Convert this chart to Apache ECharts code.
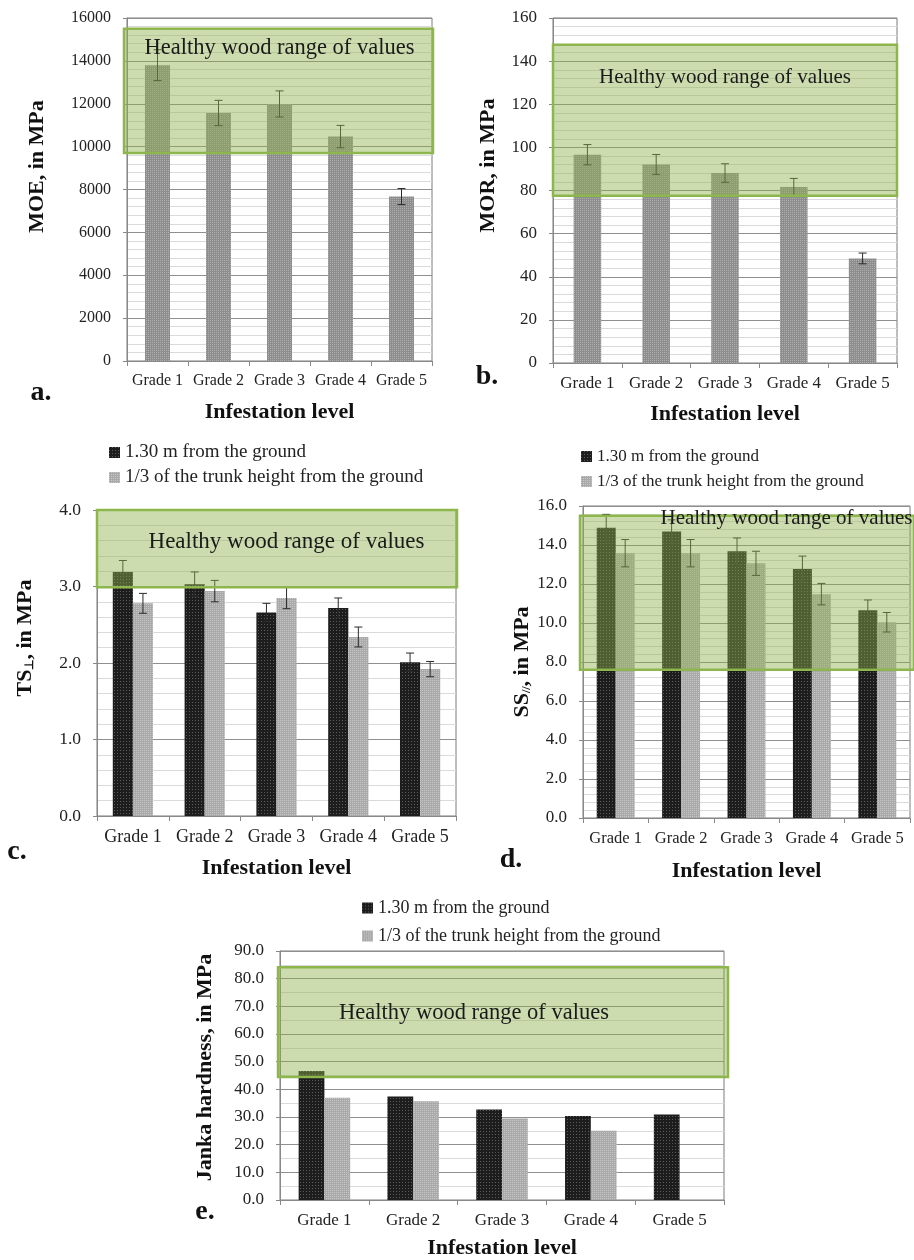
<!DOCTYPE html>
<html><head><meta charset="utf-8">
<script src="https://cdn.jsdelivr.net/npm/echarts@6/dist/echarts.min.js"></script>
<style>html,body{margin:0;padding:0;background:#fff}#c{width:914px;height:1260px}</style>
</head><body><div id="c"></div>
<script>
// ---------- data ----------
const grades = ['Grade 1', 'Grade 2', 'Grade 3', 'Grade 4', 'Grade 5'];
const seriesNames = ['1.30 m from the ground', '1/3 of the trunk height from the ground'];
const healthyLabel = 'Healthy wood range of values';
const xTitle = 'Infestation level';

// a. MOE
const moe = [13800, 11570, 11990, 10470, 7670];
const moeErr = [720, 590, 610, 520, 375];
const moeHealthy = [9700, 15500];
// b. MOR
const mor = [96.6, 92.1, 88.1, 81.6, 48.5];
const morErr = [4.7, 4.6, 4.3, 4.0, 2.5];
const morHealthy = [77.6, 147.6];
// c. TS perpendicular
const tsLow = [3.19, 3.03, 2.66, 2.72, 2.01];
const tsLowErr = [0.15, 0.16, 0.12, 0.13, 0.12];
const tsHigh = [2.78, 2.94, 2.85, 2.34, 1.92];
const tsHighErr = [0.13, 0.14, 0.14, 0.13, 0.10];
const tsHealthy = [2.99, 4.0];
// d. SS parallel
const ssLow = [14.89, 14.69, 13.68, 12.77, 10.66];
const ssLowErr = [0.68, 0.6, 0.68, 0.66, 0.52];
const ssHigh = [13.58, 13.58, 13.06, 11.48, 10.04];
const ssHighErr = [0.7, 0.7, 0.62, 0.55, 0.5];
const ssHealthy = [7.6, 15.5];
// e. Janka hardness
const jankaLow = [46.6, 37.4, 32.7, 30.4, 30.9];
const jankaHigh = [37.0, 35.7, 29.5, 25.0, null];
const jankaHealthy = [44.5, 84.1];

// ---------- styling ----------
const SERIF = "'Liberation Serif', 'Times New Roman', serif";
const DARK = '#1d1d1d', LIGHT = '#a9a9a9', MID = '#8d8d8d';
const decalDark = { symbol: 'rect', symbolSize: 1, color: 'rgba(255,255,255,0.28)', dashArrayX: [1, 2], dashArrayY: [1, 2] };
const decalLight = { symbol: 'rect', symbolSize: 1, color: 'rgba(255,255,255,0.35)', dashArrayX: [1, 1], dashArrayY: [1, 1] };
const decalMid = { symbol: 'rect', symbolSize: 1, color: 'rgba(255,255,255,0.3)', dashArrayX: [1, 1], dashArrayY: [1, 1] };

const panels = [
  { grid: { left: 127, top: 18, width: 305, height: 343 }, max: 16000, interval: 2000, minor: 5, dec: 0,
    yName: 'MOE, in MPa', yGap: 79, yPad: 46, xGap: 40, tick: 16, yFont: 16, lab: { dx: 0, dy: 19, fs: 22.5 }, boxX: [-3, 1] },
  { grid: { left: 553, top: 18, width: 344, height: 345 }, max: 160, interval: 20, minor: 5, dec: 0,
    yName: 'MOR, in MPa', yGap: 54, yPad: 50, xGap: 40, tick: 17, yFont: 17, lab: { dx: 0, dy: 33, fs: 21 }, boxX: [0, 0] },
  { grid: { left: 97, top: 510, width: 359, height: 306 }, max: 4, interval: 1, minor: 5, dec: 1,
    yName: '{m|TS}{s|⊥}{m|, in MPa}', yGap: 61, yPad: 50, xGap: 41, tick: 18, yFont: 17.5, lab: { dx: 10, dy: 32, fs: 23 }, boxX: [0, 1] },
  { grid: { left: 583, top: 506, width: 327, height: 312 }, max: 16, interval: 2, minor: 5, dec: 1,
    yName: '{m|SS}{s|//}{m|, in MPa}', yGap: 50, yPad: 0, xGap: 42, tick: 16.5, yFont: 17, lab: { dx: 40, dy: 3, fs: 21 }, boxX: [-3, 4] },
  { grid: { left: 280, top: 951, width: 444, height: 254 }, max: 90, interval: 10, minor: 2, dec: 1,
    yName: 'Janka hardness, in MPa', yGap: 64, yPad: 16, xGap: 37, tick: 17, yFont: 17, lab: { dx: -28, dy: 46, fs: 22.5 }, boxX: [-2, 4] }
];

function errRender(sign, frac) {
  return function (params, api) {
    const i = api.value(0);
    const pLo = api.coord([i, api.value(1)]);
    const pHi = api.coord([i, api.value(2)]);
    const band = api.size([1, 0])[0];
    const x = pLo[0] + sign * band * frac / 2;
    const cap = 4, st = { stroke: '#2a2a2a', lineWidth: 1 };
    return { type: 'group', children: [
      { type: 'line', shape: { x1: x, y1: pLo[1], x2: x, y2: pHi[1] }, style: st },
      { type: 'line', shape: { x1: x - cap, y1: pLo[1], x2: x + cap, y2: pLo[1] }, style: st },
      { type: 'line', shape: { x1: x - cap, y1: pHi[1], x2: x + cap, y2: pHi[1] }, style: st }
    ] };
  };
}
function boxRender(p) {
  return function (params, api) {
    const cs = params.coordSys;
    const yLo = api.coord([0, api.value(1)])[1];
    const yHi = api.coord([0, api.value(2)])[1];
    return { type: 'group', children: [
      { type: 'rect', shape: { x: cs.x + p.boxX[0], y: yHi, width: cs.width - p.boxX[0] + p.boxX[1], height: yLo - yHi },
        style: { fill: 'rgba(144,177,77,0.45)', stroke: '#8db64c', lineWidth: 2.5 } },
      { type: 'text', x: cs.x + cs.width / 2 + p.lab.dx, y: yHi + p.lab.dy,
        style: { text: healthyLabel, fontSize: p.lab.fs, fontFamily: SERIF, fill: '#1a1a1a', align: 'center', verticalAlign: 'middle' } }
    ] };
  };
}

const grid = [], xAxis = [], yAxis = [], series = [];
panels.forEach((p, k) => {
  grid.push(Object.assign({ show: true, borderColor: '#7a7a7a', borderWidth: 1, backgroundColor: 'transparent' }, p.grid));
  xAxis.push({
    type: 'category', gridIndex: k, data: grades, boundaryGap: true,
    name: xTitle, nameLocation: 'middle', nameGap: p.xGap,
    nameTextStyle: { fontFamily: SERIF, fontWeight: 'bold', fontSize: 22, color: '#111' },
    axisLine: { lineStyle: { color: '#888' } },
    axisTick: { show: true, length: 5, lineStyle: { color: '#888' } },
    axisLabel: { fontFamily: SERIF, fontSize: p.tick, color: '#222', margin: 12, interval: 0 },
    splitLine: { show: false }
  });
  yAxis.push({
    type: 'value', gridIndex: k, min: 0, max: p.max, interval: p.interval,
    name: p.yName, nameLocation: 'middle', nameGap: p.yGap, nameRotate: 90,
    nameTextStyle: { fontFamily: SERIF, fontWeight: 'bold', fontSize: 22, color: '#111', padding: [0, 0, 0, p.yPad],
      rich: { m: { fontFamily: SERIF, fontWeight: 'bold', fontSize: 22, color: '#111' },
              s: { fontFamily: SERIF, fontWeight: 'bold', fontSize: 12, color: '#111', padding: [9, 0, 0, 0] } } },
    axisLine: { show: true, lineStyle: { color: '#888' } },
    axisTick: { show: true, length: 4, lineStyle: { color: '#888' } },
    axisLabel: { fontFamily: SERIF, fontSize: p.yFont, color: '#222', margin: 16, formatter: v => v.toFixed(p.dec) },
    splitLine: { show: true, lineStyle: { color: '#8f8f8f', width: 1 } },
    minorTick: { show: false, splitNumber: p.minor },
    minorSplitLine: { show: true, lineStyle: { color: '#dadada', width: 1 } }
  });
});

function addBar(k, name, data, color, decal, width) {
  series.push({ type: 'bar', name: name, xAxisIndex: k, yAxisIndex: k, data: data, barWidth: width, barGap: '0%',
    itemStyle: { color: color, decal: decal }, z: 2, animation: false });
}
function addErr(k, vals, errs, sign, frac) {
  series.push({ type: 'custom', xAxisIndex: k, yAxisIndex: k, renderItem: errRender(sign, frac),
    data: vals.map((v, i) => [i, v - errs[i], v + errs[i]]), encode: { x: 0, y: [1, 2] }, z: 3, silent: true, animation: false });
}
function addBox(k, range) {
  series.push({ type: 'custom', xAxisIndex: k, yAxisIndex: k, renderItem: boxRender(panels[k]),
    data: [[0, range[0], range[1]]], encode: { x: 0, y: [1, 2] }, z: 5, silent: true, animation: false, clip: false });
}

// a
addBar(0, 'MOE', moe, MID, decalMid, '41%'); addErr(0, moe, moeErr, 0, 0); addBox(0, moeHealthy);
// b
addBar(1, 'MOR', mor, MID, decalMid, '40%'); addErr(1, mor, morErr, 0, 0); addBox(1, morHealthy);
// c
addBar(2, seriesNames[0], tsLow, DARK, decalDark, '28%'); addBar(2, seriesNames[1], tsHigh, LIGHT, decalLight, '28%');
addErr(2, tsLow, tsLowErr, -1, 0.28); addErr(2, tsHigh, tsHighErr, 1, 0.28); addBox(2, tsHealthy);
// d
addBar(3, seriesNames[0], ssLow, DARK, decalDark, '29%'); addBar(3, seriesNames[1], ssHigh, LIGHT, decalLight, '29%');
addErr(3, ssLow, ssLowErr, -1, 0.29); addErr(3, ssHigh, ssHighErr, 1, 0.29); addBox(3, ssHealthy);
// e
addBar(4, seriesNames[0], jankaLow, DARK, decalDark, '29%'); addBar(4, seriesNames[1], jankaHigh, LIGHT, decalLight, '29%');
addBox(4, jankaHealthy);

const legendBase = { orient: 'vertical', icon: 'rect', itemWidth: 11, itemHeight: 11, data: seriesNames, selectedMode: false,
  textStyle: { fontFamily: SERIF, color: '#222' } };
const legend = [
  Object.assign({}, legendBase, { left: 104, top: 438, itemGap: 6, textStyle: { fontFamily: SERIF, color: '#222', fontSize: 19 } }),
  Object.assign({}, legendBase, { left: 576, top: 443, itemGap: 8, textStyle: { fontFamily: SERIF, color: '#222', fontSize: 17 } }),
  Object.assign({}, legendBase, { left: 357, top: 894, itemGap: 10, textStyle: { fontFamily: SERIF, color: '#222', fontSize: 18 } })
];

const letters = [['a.', 41, 393], ['b.', 487, 377], ['c.', 17, 852], ['d.', 511, 860], ['e.', 205, 1212]];
const graphic = letters.map(l => ({ type: 'text', x: l[1], y: l[2],
  style: { text: l[0], fontFamily: SERIF, fontWeight: 'bold', fontSize: 28, fill: '#111', align: 'center', verticalAlign: 'middle' } }));

const chart = echarts.init(document.getElementById('c'), null, { renderer: 'canvas' });
chart.setOption({ animation: false, backgroundColor: '#fff', grid, xAxis, yAxis, series, legend, graphic });
</script></body></html>
